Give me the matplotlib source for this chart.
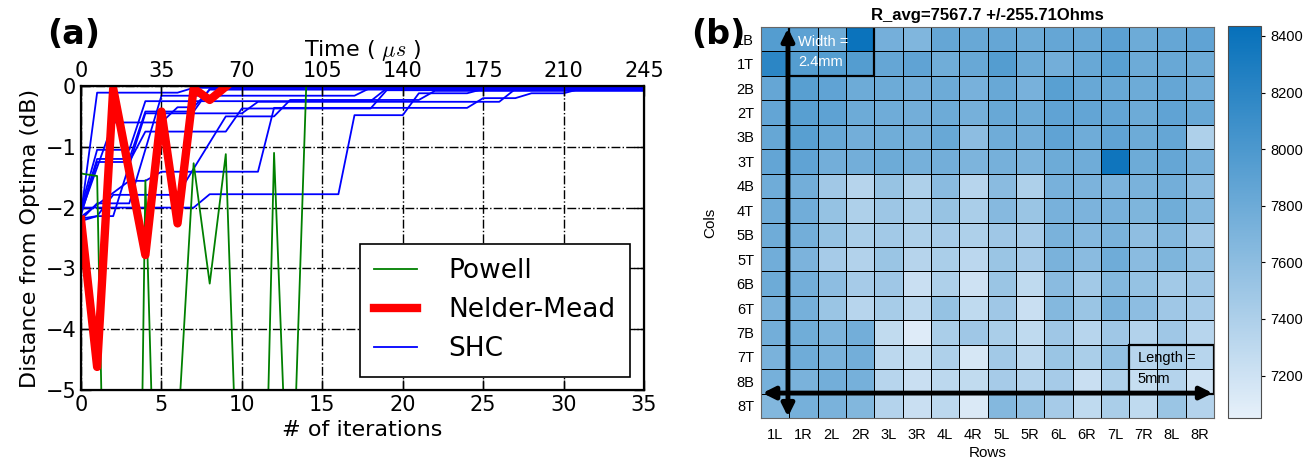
import numpy as np
import matplotlib.pyplot as plt
from matplotlib.colors import LinearSegmentedColormap
from matplotlib.patches import Rectangle

plt.rcParams['mathtext.fontset'] = 'cm'

# ---------- panel (a): convergence ----------
nm_x = [0, 1, 2, 4, 5, 6, 7, 8, 9]
nm_y = [-2.2, -4.62, -0.04, -2.78, -0.42, -2.26, -0.04, -0.23, -0.01]

powell_x = [0, 1, 2, 3, 4, 5, 6, 7, 8, 9, 10, 11, 12, 13, 14, 35]
powell_y = [-1.44, -1.48, -15.0, -20.7, -1.55, -10.9, -5.8, -1.27, -3.25,
            -1.12, -8.9, -12.2, -1.1, -8.0, 0.0, 0.0]

shc_x = [
    [0, 1, 6, 7, 35],
    [0, 1, 3, 4, 18, 19, 35],
    [0, 1, 3, 4, 7, 8, 35],
    [0, 2, 5, 6, 7, 8, 35],
    [0, 1, 3, 4, 9, 10, 18, 19, 35],
    [0, 3, 4, 5, 11, 12, 24, 25, 27, 28, 30, 31, 35],
    [0, 7, 8, 16, 17, 20, 21, 24, 25, 35],
    [0, 1, 2, 6, 9, 12, 13, 21, 22, 35],
    [0, 1, 3, 5, 17, 18, 35],
    [0, 1, 2, 4, 10, 11, 26, 27, 35],
]
shc_y = [
    [-2.10, -0.11, -0.11, -0.03, -0.03],
    [-2.00, -1.05, -1.05, -0.25, -0.25, -0.04, -0.04],
    [-2.05, -1.20, -1.20, -0.42, -0.42, -0.05, -0.05],
    [-2.08, -0.60, -0.60, -0.35, -0.35, -0.06, -0.06],
    [-2.12, -1.25, -1.25, -0.75, -0.75, -0.37, -0.37, -0.07, -0.07],
    [-2.15, -1.56, -1.56, -1.41, -1.41, -0.36, -0.36, -0.20, -0.20, -0.12, -0.12, -0.05, -0.05],
    [-2.00, -2.00, -1.78, -1.78, -0.48, -0.48, -0.12, -0.12, -0.05, -0.05],
    [-2.18, -2.14, -1.79, -1.79, -0.50, -0.50, -0.23, -0.23, -0.08, -0.08],
    [-2.20, -1.93, -1.93, -0.16, -0.16, -0.03, -0.03],
    [-2.22, -2.14, -2.14, -0.45, -0.45, -0.26, -0.26, -0.05, -0.05],
]

iter_ticks = [0, 5, 10, 15, 20, 25, 30, 35]
time_ticks = [0, 35, 70, 105, 140, 175, 210, 245]

# ---------- panel (b): resistance map ----------
row_labels = ['1L', '1R', '2L', '2R', '3L', '3R', '4L', '4R',
              '5L', '5R', '6L', '6R', '7L', '7R', '8L', '8R']
col_labels = ['1B', '1T', '2B', '2T', '3B', '3T', '4B', '4T',
              '5B', '5T', '6B', '6T', '7B', '7T', '8B', '8T']

heat = np.array([
    [7950, 7900, 7800, 8400, 7750, 7680, 7850, 7830, 7850, 7800, 7850, 7830, 7900, 7800, 7850, 7880],
    [8200, 7950, 7950, 7950, 7850, 7880, 7780, 7830, 7950, 7800, 7760, 7830, 7920, 7800, 7830, 7800],
    [7850, 7930, 7880, 7800, 7800, 7760, 7800, 7730, 7830, 7730, 7920, 7830, 7830, 7800, 7850, 7790],
    [7860, 7930, 7890, 7800, 7790, 7760, 7800, 7740, 7830, 7800, 7880, 7860, 7860, 7800, 7880, 7830],
    [7840, 7930, 7830, 7760, 7780, 7740, 7830, 7600, 7790, 7760, 7880, 7790, 7880, 7800, 7850, 7400],
    [7860, 7880, 7760, 7760, 7800, 7740, 7760, 7700, 7740, 7700, 7800, 7790, 8380, 7800, 7850, 7740],
    [7790, 7760, 7480, 7350, 7540, 7400, 7620, 7340, 7620, 7400, 7730, 7710, 7710, 7720, 7760, 7620],
    [7790, 7770, 7550, 7400, 7500, 7420, 7540, 7420, 7640, 7520, 7730, 7710, 7730, 7690, 7780, 7660],
    [7790, 7760, 7550, 7420, 7470, 7400, 7450, 7400, 7490, 7450, 7720, 7640, 7720, 7590, 7660, 7490],
    [7770, 7710, 7450, 7370, 7520, 7350, 7420, 7320, 7520, 7450, 7720, 7620, 7790, 7620, 7690, 7570],
    [7800, 7760, 7600, 7450, 7490, 7230, 7400, 7200, 7520, 7290, 7620, 7470, 7660, 7550, 7470, 7490],
    [7720, 7740, 7520, 7340, 7440, 7310, 7550, 7290, 7490, 7230, 7660, 7520, 7720, 7600, 7490, 7450],
    [7760, 7780, 7700, 7760, 7280, 7100, 7420, 7490, 7420, 7290, 7490, 7340, 7490, 7370, 7490, 7340],
    [7720, 7790, 7720, 7760, 7310, 7250, 7400, 7150, 7470, 7310, 7520, 7420, 7570, 7340, 7420, 7340],
    [7740, 7720, 7760, 7740, 7340, 7230, 7310, 7280, 7450, 7360, 7450, 7230, 7400, 7250, 7360, 7200],
    [7670, 7740, 7720, 7670, 7360, 7230, 7310, 7130, 7660, 7570, 7450, 7290, 7420, 7290, 7520, 7360],
])
cbar_ticks = [7200, 7400, 7600, 7800, 8000, 8200, 8400]

fig = plt.figure(figsize=(13.09, 4.66), dpi=100)

# ================= (a) =================
ax = fig.add_axes([0.0619, 0.163, 0.4301, 0.6525])
for xs, ys in zip(shc_x, shc_y):
    ax.plot(xs, ys, color='blue', lw=1.3)
ax.plot(powell_x, powell_y, color='green', lw=1.3)
ax.plot(nm_x, nm_y, color='red', lw=6, solid_joinstyle='round')

# legend handles
ax.plot([], [], color='green', lw=1.3, label='Powell')
ax.plot([], [], color='red', lw=6, label='Nelder-Mead')
ax.plot([], [], color='blue', lw=1.3, label='SHC')
handles, labels = ax.get_legend_handles_labels()
leg = ax.legend(handles, labels, loc='lower right', fontsize=19, fancybox=False,
                framealpha=1, edgecolor='k', handlelength=1.6, handletextpad=1.2,
                borderpad=0.55, borderaxespad=0, bbox_to_anchor=(0.975, 0.043))
leg.get_frame().set_linewidth(1.2)

ax.set_xlim(0, 35)
ax.set_ylim(-5, 0)
ax.set_xticks(iter_ticks)
ax.set_yticks([-5, -4, -3, -2, -1, 0])
ax.grid(True, linestyle='-.', color='k', lw=1)
ax.tick_params(direction='in', length=7, width=1, labelsize=15, right=True, top=False)
ax.set_xlabel('# of iterations', fontsize=16)
ax.set_ylabel('Distance from Optima (dB)', fontsize=16)
for s in ax.spines.values():
    s.set_linewidth(1.6)

axt = ax.twiny()
axt.set_xlim(0, 35)
axt.set_xticks(iter_ticks)
axt.set_xticklabels([str(t) for t in time_ticks])
axt.tick_params(direction='in', length=7, width=1, labelsize=15)
axt.set_xlabel(r'Time ( $\mu s$ )', fontsize=16, labelpad=4)

fig.text(0.036, 0.905, '(a)', fontsize=24, fontweight='bold')

# ================= (b) =================
hfont = ['Liberation Sans', 'DejaVu Sans']
cmap = LinearSegmentedColormap.from_list('res', ['#e6f0fa', '#0670ba'])
axh = fig.add_axes([0.5814, 0.103, 0.3461, 0.839])
mesh = axh.pcolormesh(np.arange(17), np.arange(17), heat, cmap=cmap,
                      vmin=7050, vmax=8435, edgecolors='k', linewidth=0.6)
axh.set_xlim(0, 16)
axh.set_ylim(16, 0)
axh.set_xticks(np.arange(16) + 0.5)
axh.set_xticklabels(row_labels, family=hfont, fontsize=10.5)
axh.set_yticks(np.arange(16) + 0.5)
axh.set_yticklabels(col_labels, family=hfont, fontsize=10.5)
axh.tick_params(length=0, pad=5)
axh.tick_params(axis='x', pad=7)
axh.set_xlabel('Rows', family=hfont, fontsize=11, labelpad=3)
axh.set_ylabel('Cols', family=hfont, fontsize=11, labelpad=14)
axh.set_title('R_avg=7567.7 +/-255.71Ohms', family=hfont, fontsize=12,
              fontweight='bold', pad=5)
for s in axh.spines.values():
    s.set_color('0.4')

axh.add_patch(Rectangle((1, 0), 3, 2, fill=False, edgecolor='k', lw=1.6))
axh.add_patch(Rectangle((13, 13), 3, 2, fill=False, edgecolor='k', lw=1.6))
axh.text(1.3, 0.6, 'Width =', color='white', family=hfont, fontsize=10.5, va='center')
axh.text(1.3, 1.45, '2.4mm', color='white', family=hfont, fontsize=10.5, va='center')
axh.text(13.3, 13.55, 'Length =', color='k', family=hfont, fontsize=10.5, va='center')
axh.text(13.3, 14.4, '5mm', color='k', family=hfont, fontsize=10.5, va='center')

arrow = dict(arrowstyle='<|-|>', lw=3.5, color='k', mutation_scale=18,
             shrinkA=0, shrinkB=0)
axh.annotate('', xy=(0.95, 0.05), xytext=(0.95, 15.95), arrowprops=arrow)
axh.annotate('', xy=(0.05, 14.98), xytext=(15.95, 14.98), arrowprops=arrow)

cax = fig.add_axes([0.9381, 0.103, 0.0252, 0.841])
cb = fig.colorbar(mesh, cax=cax, ticks=cbar_ticks)
cb.outline.set_edgecolor('0.3')
cax.tick_params(direction='out', length=3, width=0.8, labelsize=10.5)
for t in cax.get_yticklabels():
    t.set_family(hfont)

fig.text(0.528, 0.905, '(b)', fontsize=24, fontweight='bold')

fig.savefig('out.png', dpi=100)
